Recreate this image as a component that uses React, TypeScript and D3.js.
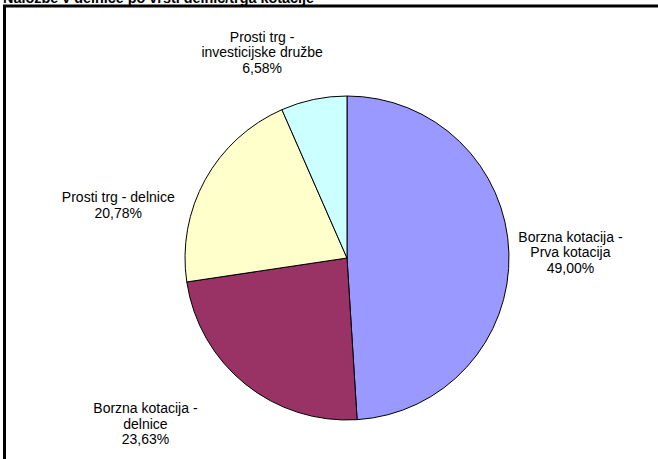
import React from "react";
import * as d3 from "d3";

const TITLE = "Naložbe v delnice po vrsti delnic/trga kotacije";
const CATEGORIES = [
  ["Borzna kotacija -", "Prva kotacija"],
  ["Borzna kotacija -", "delnice"],
  ["Prosti trg - delnice"],
  ["Prosti trg -", "investicijske družbe"],
];
const VALUES = [49.0, 23.63, 20.78, 6.58];
const PCT_LABELS = ["49,00%", "23,63%", "20,78%", "6,58%"];
const COLORS = ["#9999FF", "#993366", "#FFFFCC", "#CCFFFF"];

const W = 658;
const H = 459;
const CX = 347;
const CY = 258;
const R = 162;
const LABEL_K = 1.38;
// Excel-style label placement tweaks (px) per slice
const NUDGE: [number, number][] = [
  [0, 1],
  [-61, -8],
  [-33, 55],
  [-39, 13],
];
const FONT = "Arial, 'Liberation Sans', sans-serif";
const LINE_H = 15.5;

export default function App() {
  const pie = d3
    .pie<number>()
    .sort(null)
    .value((d) => d);
  const arcs = pie(VALUES);
  const arc = d3.arc<d3.PieArcDatum<number>>().innerRadius(0).outerRadius(R);

  return (
    <svg
      width={W}
      height={H}
      style={{ display: "block", position: "absolute", left: 0, top: 0, background: "#fff" }}
    >
      <text x={3} y={2.5} fontFamily={FONT} fontSize={14.4} fontWeight="bold" fill="#000">
        {TITLE}
      </text>
      <rect x={4.5} y={6} width={800} height={600} fill="#fff" stroke="#000" strokeWidth={3} />
      <g transform={`translate(${CX},${CY})`}>
        {arcs.map((a, i) => (
          <path key={i} d={arc(a) ?? ""} fill={COLORS[i]} stroke="#000" strokeWidth={1} />
        ))}
      </g>
      {arcs.map((a, i) => {
        const mid = (a.startAngle + a.endAngle) / 2;
        const lx = CX + Math.sin(mid) * R * LABEL_K + NUDGE[i][0];
        const ly = CY - Math.cos(mid) * R * LABEL_K + NUDGE[i][1];
        const lines = [...CATEGORIES[i], PCT_LABELS[i]];
        const top = ly - ((lines.length - 1) * LINE_H) / 2;
        return (
          <text
            key={i}
            textAnchor="middle"
            fontFamily={FONT}
            fontSize={14}
            fill="#000"
          >
            {lines.map((t, j) => (
              <tspan key={j} x={lx} y={top + j * LINE_H} dominantBaseline="central">
                {t}
              </tspan>
            ))}
          </text>
        );
      })}
    </svg>
  );
}
